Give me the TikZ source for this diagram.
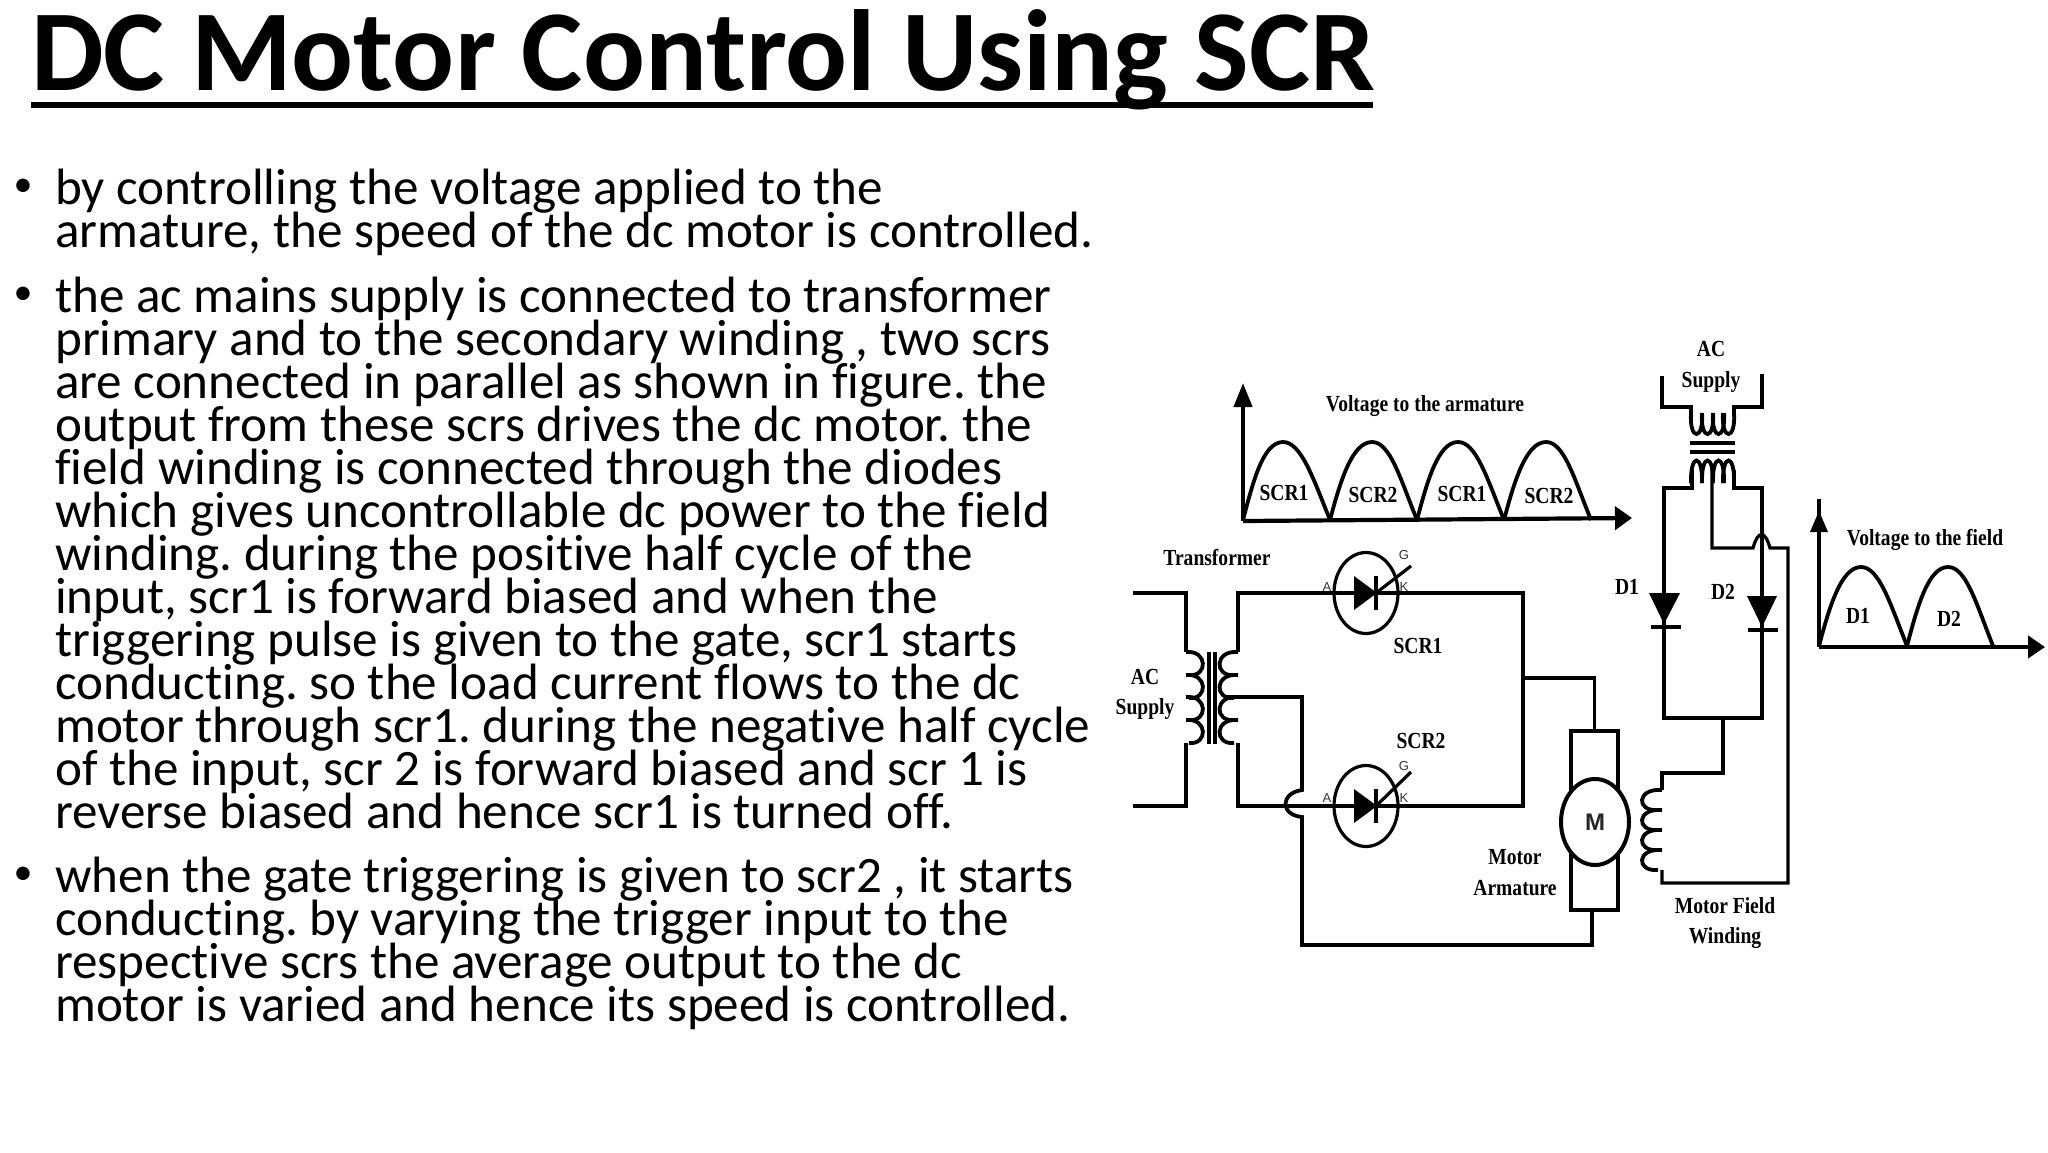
\documentclass[tikz,border=0pt]{standalone}
\usepackage{fontspec}
\setmainfont[Ligatures=NoCommon]{Carlito}
\newfontfamily\figfont[FakeStretch=0.85]{Liberation Serif}
\newfontfamily\pinfont{Liberation Sans}
\usetikzlibrary{arrows.meta,shapes.geometric}
\newcommand{\bodyfont}{\frenchspacing\lineskiplimit=-100pt\relax\fontsize{51.1}{43}\selectfont}
\tikzset{
  wire/.style={line width=3.8pt,line join=miter},
  thinwire/.style={line width=3.2pt},
  axisline/.style={line width=4.2pt},
  wave/.style={line width=3.8pt},
  solid tip/.style={fill=black,draw=none},
  scrring/.style={draw,ellipse,line width=3.2pt,minimum width=64pt,minimum height=81pt,inner sep=0pt},
  motorring/.style={draw,ellipse,line width=4pt,fill=white,minimum width=68pt,minimum height=86pt,inner sep=0pt},
  figtext/.style={inner sep=0pt,font=\figfont\bfseries\fontsize{23}{23}\selectfont},
  pintext/.style={inner sep=0pt,font=\pinfont\fontsize{13}{13}\selectfont,text=black!80},
  bodytext/.style={inner sep=0pt,anchor=north west,align=left,font=\bodyfont},
  bullettext/.style={inner sep=0pt,font=\fontsize{38}{38}\selectfont},
}
\begin{document}
\begin{tikzpicture}[x=1pt,y=-1pt]
\useasboundingbox (0,0) rectangle (2048,1152);

% title
\node[inner sep=0pt,anchor=base west,font=\bfseries\fontsize{115.4}{115.4}\selectfont] (title) at (31,90) {DC Motor Control Using SCR};
\coordinate (ruleL) at (31,105);
\coordinate (ruleR) at (1373,105);
\draw[line width=6pt] (ruleL) -- (ruleR);

% text
\node[bullettext] (dotA) at (23,188) {•};
\node[bodytext] (paraA) at (55,169) {by controlling the voltage applied to the\\armature, the speed of the dc motor is controlled.};
\node[bullettext] (dotB) at (23,296) {•};
\node[bodytext] (paraB) at (55,277) {the ac mains supply is connected to transformer\\primary and to the secondary winding , two scrs\\are connected in parallel as shown in figure. the\\output from these scrs drives the dc motor. the\\field winding is connected through the diodes\\which gives uncontrollable dc power to the field\\winding. during the positive half cycle of the\\input, scr1 is forward biased and when the\\triggering pulse is given to the gate, scr1 starts\\conducting. so the load current flows to the dc\\motor through scr1. during the negative half cycle\\of the input, scr 2 is forward biased and scr 1 is\\reverse biased and hence scr1 is turned off.};
\node[bullettext] (dotC) at (23,876) {•};
\node[bodytext] (paraC) at (55,857) {when the gate triggering is given to scr2 , it starts\\conducting. by varying the trigger input to the\\respective scrs the average output to the dc\\motor is varied and hence its speed is controlled.};

% armature voltage graph
\coordinate (armO) at (1243,521);
\coordinate (armY) at (1243,383);
\coordinate (armX) at (1632,518);
\draw[axisline,-{Triangle[length=24pt,width=18pt]}] (armO) -- (armY);
\draw[axisline,-{Triangle[length=17pt,width=23pt]}] (armO) -- (armX);
\foreach \a/\b/\c in {1243/1283/1330,1330/1372/1417,1417/1458/1504,1504/1546/1591}
  \draw[wave] (\a,520) .. controls (\a+10,482) and (\b-20,442) .. (\b,442) .. controls (\b+18,442) and (\c-17,478) .. (\c,520);
\node[figtext] (armTitle) at (1425,406) {Voltage to the armature};
\node[figtext] (armA) at (1284,493) {SCR1};
\node[figtext] (armB) at (1373,495) {SCR2};
\node[figtext] (armC) at (1462,494) {SCR1};
\node[figtext] (armD) at (1549,496) {SCR2};

% field voltage graph
\coordinate (fldO) at (1819,647);
\coordinate (fldY) at (1819,499);
\coordinate (fldX) at (2045,647);
\draw[axisline] (fldO) -- (fldY);
\fill[solid tip] (1819,511) -- (1828,532) -- (1810,532) -- cycle;
\draw[axisline,-{Triangle[length=17pt,width=22pt]}] (fldO) -- (fldX);
\foreach \a/\b/\c in {1819/1861/1907,1907/1948/1993}
  \draw[wave] (\a,646) .. controls (\a+10,608) and (\b-20,567) .. (\b,567) .. controls (\b+18,567) and (\c-17,603) .. (\c,646);
\node[figtext] (fldTitle) at (1925,540) {Voltage to the field};
\node[figtext] (fldA) at (1858,616) {D1};
\node[figtext] (fldB) at (1949,619) {D2};

% left transformer
\foreach \y in {652,675,697,720}
  \draw[wire] (1186,\y) .. controls (1208,\y-2) and (1208,\y+25) .. (1189,\y+23);
\foreach \y in {652,675,697,720}
  \draw[wire] (1238,\y) .. controls (1214,\y-2) and (1214,\y+25) .. (1234,\y+23);
\coordinate (coreT) at (1209,652);
\coordinate (coreB) at (1209,744);
\draw[thinwire] (coreT) -- (coreB);
\draw[thinwire] ([xshift=6pt]coreT) -- ([xshift=6pt]coreB);

\coordinate (priInT) at (1133,593);
\coordinate (priT) at (1186,652);
\coordinate (priB) at (1186,743);
\coordinate (priInB) at (1133,806);
\draw[wire] (priInT) -| (priT);
\draw[wire] (priB) |- (priInB);

% SCR's
\node[scrring] (scrA) at (1366,593) {};
\node[scrring] (scrB) at (1366,806) {};
\foreach \n/\g in {scrA/27,scrB/34} {
  \fill[solid tip] ([xshift=-12pt,yshift=-17pt]\n.center) -- ([xshift=11pt]\n.center) -- ([xshift=-12pt,yshift=17pt]\n.center) -- cycle;
  \draw[thinwire] ([xshift=10pt,yshift=-17pt]\n.center) -- ([xshift=10pt,yshift=17pt]\n.center);
  \draw[thinwire] ([xshift=10pt]\n.center) -- ([xshift=45pt,yshift=\g pt]\n.center);
}
\node[pintext] (pinAa) at (1327,587) {A};
\node[pintext] (pinAk) at (1404,587) {K};
\node[pintext] (pinAg) at (1404,555) {G};
\node[pintext] (pinBa) at (1327,798) {A};
\node[pintext] (pinBk) at (1404,798) {K};
\node[pintext] (pinBg) at (1404,766) {G};

% armature circuit
\coordinate (secT) at (1238,652);
\coordinate (secB) at (1238,743);
\coordinate (secM) at (1227,697);
\coordinate (railT) at (1523,593);
\coordinate (railM) at (1523,678);
\coordinate (railB) at (1523,806);
\coordinate (hopT) at (1302,790);
\coordinate (hopB) at (1302,817);
\coordinate (retBL) at (1302,945);
\coordinate (retBR) at (1592,910);
\node[draw,line width=3.8pt,inner sep=0pt,minimum width=47pt,minimum height=179pt] (motorBox) at (1594.5,820.5) {};
\node[motorring] (motor) at (1595,822) {};
\draw[wire] (secT) |- (scrA.center) -- (railT) -- (railB) -- (scrB.center) -| (secB);
\draw[wire] (railM) -| (motorBox.north);
\draw[wire] (secM) -| (hopT) .. controls (1280,793) and (1280,815) .. (hopB) -- (retBL) -| (retBR);

% right transformer
\foreach \x in {1691,1702,1713,1723}
  \draw[wire] (\x,413) .. controls (\x-2,441) and (\x+13,441) .. (\x+11,413);
\foreach \x in {1691,1702,1713,1723}
  \draw[wire] (\x,483) .. controls (\x-1,453) and (\x+12,453) .. (\x+11,483);
\coordinate (fcoreL) at (1690,443);
\coordinate (fcoreR) at (1735,443);
\draw[axisline] (fcoreL) -- (fcoreR);
\draw[axisline] ([yshift=-9pt]fcoreL) -- ([yshift=-9pt]fcoreR);

\coordinate (topL) at (1662,376);
\coordinate (topLb) at (1691,407);
\coordinate (topLc) at (1691,415);
\coordinate (topR) at (1762,374);
\coordinate (topRb) at (1734,407);
\coordinate (topRc) at (1734,415);
\draw[wire] (topL) |- (topLb) -- (topLc);
\draw[wire] (topR) |- (topRb) -- (topRc);

% diodes
\coordinate (cenT) at (1712,465);
\coordinate (lowL) at (1692,470);
\coordinate (lowR) at (1734,470);
\coordinate (railC) at (1664,488);
\coordinate (railD) at (1762,488);
\coordinate (railE) at (1664,718);
\coordinate (railF) at (1762,718);
\draw[wire] (lowL) |- (railC) -- (railE) -- (railF) -- (railD) -| (lowR);
\fill[solid tip] (1649,593) -- (1680,593) -- (1664,624) -- cycle;
\draw[line width=4pt] (1651,627) -- (1681,627);
\fill[solid tip] (1747,596) -- (1777,596) -- (1762,627) -- cycle;
\draw[line width=4pt] (1748,630) -- (1778,630);
\node[figtext] (diodeA) at (1627,587) {D1};
\node[figtext] (diodeB) at (1723,592) {D2};

% field circuit
\coordinate (cenB) at (1712,548);
\coordinate (jumpL) at (1753,548);
\coordinate (jumpR) at (1770,548);
\coordinate (fldR) at (1788,548);
\coordinate (fldB) at (1788,883);
\coordinate (wndB) at (1662,870);
\coordinate (wndT) at (1662,790);
\coordinate (wndC) at (1662,773);
\coordinate (wndD) at (1723,773);
\coordinate (wndE) at (1723,718);
\draw[thinwire] (cenT) -- (cenB) -- (jumpL) .. controls (1758,530) and (1765,530) .. (jumpR) -- (fldR) -- (fldB) -| (wndB);
\draw[wire] (wndT) -- (wndC) -- (wndD) -- (wndE);
\foreach \y in {790,810,830,850}
  \draw[wire] (1662,\y) .. controls (1636,\y-2) and (1636,\y+22) .. (1658,\y+20);

% labels
\node[figtext] (lblTrans) at (1217,558) {Transformer};
\node[figtext] (lblAcL) at (1145,677) {AC};
\node[figtext] (lblSupL) at (1145,709) {Supply};
\node[figtext] (lblScrA) at (1418,646) {SCR1};
\node[figtext] (lblScrB) at (1421,741) {SCR2};
\node[inner sep=0pt,font=\pinfont\bfseries\fontsize{24}{24}\selectfont,text=black!85] (lblM) at (motor) {M};
\node[figtext] (lblMotor) at (1515,857) {Motor};
\node[figtext] (lblArm) at (1515,888) {Armature};
\node[figtext] (lblAcR) at (1711,349) {AC};
\node[figtext] (lblSupR) at (1711,382) {Supply};
\node[figtext] (lblFld) at (1725,906) {Motor Field};
\node[figtext] (lblWnd) at (1725,938) {Winding};
\end{tikzpicture}
\end{document}
